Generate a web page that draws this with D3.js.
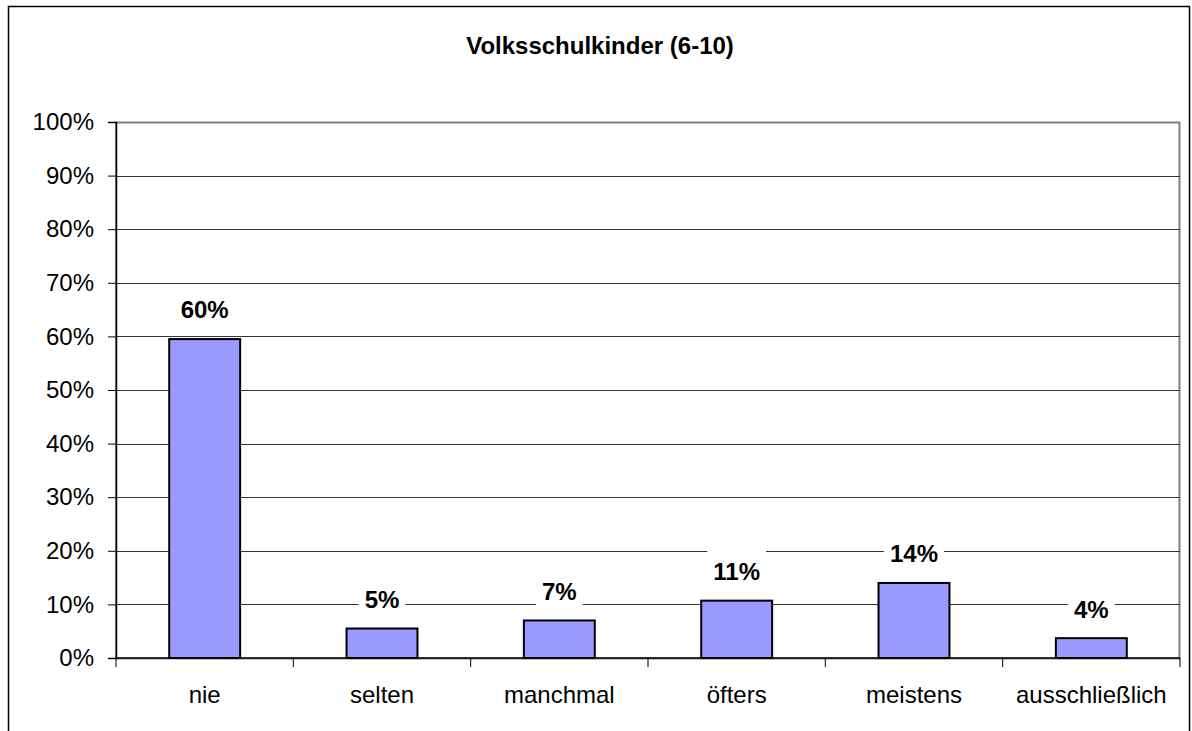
<!DOCTYPE html>
<html>
<head>
<meta charset="utf-8">
<script src="https://cdn.jsdelivr.net/npm/d3@7"></script>
<style>
  body { margin: 0; background: #fff; }
  svg text { font-family: Arial, "Liberation Sans", sans-serif; }
</style>
</head>
<body>
<svg width="1192" height="731"></svg>
<script>
var categories = ["nie", "selten", "manchmal", "öfters", "meistens", "ausschließlich"];
var values = [59.5, 5.5, 7.0, 10.7, 14.0, 3.7];
var labels = ["60%", "5%", "7%", "11%", "14%", "4%"];
var yTicks = [0, 10, 20, 30, 40, 50, 60, 70, 80, 90, 100];

var svg = d3.select("svg"),
    width = +svg.attr("width"),
    height = +svg.attr("height");

var margin = {left: 116, right: 12, top: 122, bottom: 73};
var plotW = width - margin.left - margin.right,
    plotH = height - margin.top - margin.bottom;

// outer frame
svg.append("rect")
  .attr("x", 8.5).attr("y", 6.5)
  .attr("width", 1181).attr("height", 740)
  .attr("fill", "none").attr("stroke", "#000").attr("stroke-width", 1.5);

svg.append("text")
  .attr("x", 600).attr("y", 54)
  .attr("text-anchor", "middle")
  .style("font-size", "24px").style("font-weight", "bold")
  .text("Volksschulkinder (6-10)");

var g = svg.append("g").attr("transform", "translate(" + margin.left + "," + margin.top + ")");

var x = d3.scaleBand().domain(categories).range([0, plotW]).paddingInner(0.6).paddingOuter(0.3);
var xb = d3.scaleBand().domain(categories).range([0, plotW]);
var y = d3.scaleLinear().domain([0, 100]).range([plotH, 0]);

// plot border (right, top) in gray
g.append("rect")
  .attr("x", 0).attr("y", 0.5).attr("width", plotW - 0.5).attr("height", plotH)
  .attr("fill", "none").attr("stroke", "#808080").attr("stroke-width", 2);

// gridlines
g.selectAll(".grid").data(yTicks.filter(function(d) { return d > 0 && d < 100; }))
  .enter().append("line")
  .attr("x1", 0).attr("x2", plotW)
  .attr("y1", function(d) { return Math.round(y(d)) + 0.5; })
  .attr("y2", function(d) { return Math.round(y(d)) + 0.5; })
  .attr("stroke", "#333").attr("stroke-width", 1);

// y axis
var yAxis = g.append("g")
  .call(d3.axisLeft(y).tickValues(yTicks).tickSize(8).tickPadding(14)
    .tickFormat(function(d) { return d + "%"; }));
yAxis.selectAll("text").style("font-size", "24px").attr("fill", "#000");
yAxis.select(".domain").attr("stroke", "#000").attr("stroke-width", 1.5);
yAxis.selectAll(".tick line").attr("stroke", "#000");

// x axis with ticks at band boundaries
var xAxis = g.append("g").attr("transform", "translate(0," + plotH + ")");
xAxis.append("line").attr("x1", 0).attr("x2", plotW).attr("stroke", "#000").attr("stroke-width", 1.5);
xAxis.selectAll(".xt").data(categories.concat([null]))
  .enter().append("line")
  .attr("x1", function(d) { return d === null ? plotW : xb(d); })
  .attr("x2", function(d) { return d === null ? plotW : xb(d); })
  .attr("y1", 0).attr("y2", 9)
  .attr("stroke", "#000").attr("stroke-width", 1);
xAxis.selectAll(".xl").data(categories)
  .enter().append("text")
  .attr("x", function(d) { return xb(d) + xb.bandwidth() / 2; })
  .attr("y", 45)
  .attr("text-anchor", "middle")
  .style("font-size", "24px")
  .text(function(d) { return d; });

// bars
g.selectAll(".bar").data(values)
  .enter().append("rect")
  .attr("x", function(d, i) { return x(categories[i]); })
  .attr("y", function(d) { return y(d); })
  .attr("width", x.bandwidth())
  .attr("height", function(d) { return plotH - y(d); })
  .attr("fill", "#9999ff").attr("stroke", "#000").attr("stroke-width", 2);

// value labels on white boxes
var lab = g.selectAll(".lab").data(values)
  .enter().append("g")
  .attr("transform", function(d, i) {
    return "translate(" + (x(categories[i]) + x.bandwidth() / 2) + "," + (y(d) - 29) + ")";
  });
var box = lab.append("rect").attr("fill", "#fff");
var txt = lab.append("text")
  .attr("text-anchor", "middle")
  .attr("dy", "0.35em")
  .style("font-size", "24px").style("font-weight", "bold")
  .text(function(d, i) { return labels[i]; });
txt.each(function(d, i) {
  var w = this.getBBox().width + 12;
  d3.select(box.nodes()[i])
    .attr("x", -w / 2).attr("y", -22)
    .attr("width", w).attr("height", 44);
});
</script>
</body>
</html>
